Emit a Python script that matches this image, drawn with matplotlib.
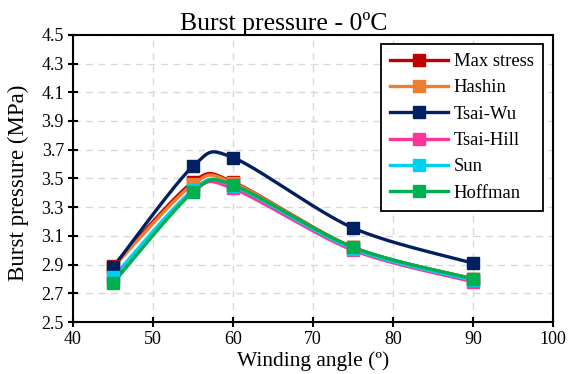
import numpy as np
import matplotlib
matplotlib.use("Agg")
import matplotlib.pyplot as plt

plt.rcParams['font.family'] = ['Liberation Serif', 'DejaVu Serif']

angles = [45, 55, 60, 75, 90]
series_names = ['Max stress', 'Hashin', 'Tsai-Wu', 'Tsai-Hill', 'Sun', 'Hoffman']
max_stress = [2.89, 3.475, 3.475, 3.02, 2.80]
hashin = [2.88, 3.46, 3.47, 3.02, 2.80]
tsai_wu = [2.88, 3.585, 3.645, 3.155, 2.91]
tsai_hill = [2.80, 3.41, 3.43, 3.00, 2.78]
sun = [2.81, 3.42, 3.45, 3.01, 2.79]
hoffman = [2.77, 3.405, 3.455, 3.02, 2.80]
colors = ['#C00000', '#ED7D31', '#002060', '#FF3399', '#00D0F0', '#00B050']


def smooth(x, y, n=40, k=0.15):
    """Excel-like smoothed line through the points (cubic Bezier)."""
    x = np.asarray(x, float)
    y = np.asarray(y, float)
    px = np.concatenate([[x[0]], x, [x[-1]]])
    py = np.concatenate([[y[0]], y, [y[-1]]])
    xs, ys = [], []
    t = np.linspace(0, 1, n)
    for i in range(1, len(px) - 2):
        p0 = np.array([px[i], py[i]])
        p3 = np.array([px[i + 1], py[i + 1]])
        c1 = p0 + (p3 - np.array([px[i - 1], py[i - 1]])) * k
        c2 = p3 - (np.array([px[i + 2], py[i + 2]]) - p0) * k
        b = ((1 - t) ** 3)[:, None] * p0 + (3 * (1 - t) ** 2 * t)[:, None] * c1 \
            + (3 * (1 - t) * t ** 2)[:, None] * c2 + (t ** 3)[:, None] * p3
        xs.extend(b[:, 0])
        ys.extend(b[:, 1])
    return xs, ys


fig = plt.figure(figsize=(5.68, 3.74), dpi=100)
ax = fig.add_axes([0.1285, 0.139, 0.845, 0.768])

all_series = [max_stress, hashin, tsai_wu, tsai_hill, sun, hoffman]
for name, vals, col in zip(series_names, all_series, colors):
    sx, sy = smooth(angles, vals)
    ax.plot(sx, sy, color=col, lw=2.4, zorder=3)
    ax.plot(angles, vals, ls='none', marker='s', ms=8.5, color=col, zorder=4)
    ax.plot([], [], color=col, lw=2.4, marker='s', ms=8.5, label=name)

ax.set_xlim(40, 100)
ax.set_ylim(2.5, 4.5)
ax.set_xticks(np.arange(40, 101, 10))
ax.set_yticks(np.arange(2.5, 4.51, 0.2))
ax.set_yticklabels([f'{v:.1f}' for v in np.arange(2.5, 4.51, 0.2)])
ax.grid(True, ls=(0, (5, 4)), color='#D9D9D9', lw=1.0)
ax.set_axisbelow(True)
for s in ax.spines.values():
    s.set_linewidth(1.5)
ax.tick_params(direction='inout', length=7, width=1.5, labelsize=13, pad=3)

fig.text(0.5, 1 - 30 / 374, 'Burst pressure - 0ºC', fontsize=18.5,
         ha='center', va='baseline')
ax.set_xlabel('Winding angle (º)', fontsize=15.5, labelpad=2)
ax.set_ylabel('Burst pressure (MPa)', fontsize=16.5, va='center')
ax.yaxis.set_label_coords(-0.113, 0.484)

leg = ax.legend(loc='upper right', bbox_to_anchor=(0.979, 0.9686), fontsize=13.4,
                fancybox=False, edgecolor='black', framealpha=1,
                borderaxespad=0, handlelength=3.1, handletextpad=0.3,
                labelspacing=0.5, borderpad=0.5)
leg.get_frame().set_linewidth(1.3)

fig.savefig('out.png', dpi=100)
